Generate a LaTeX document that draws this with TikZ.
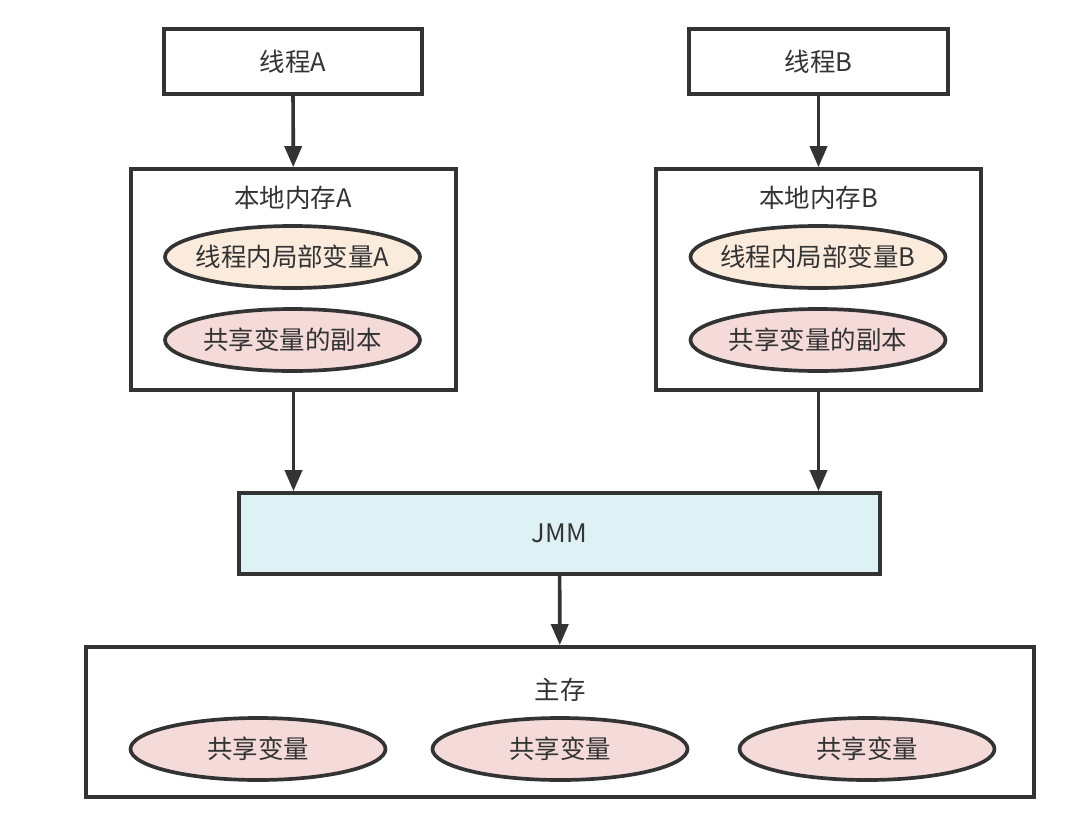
\documentclass[tikz,border=0pt]{standalone}
\usepackage{fontspec}
\setmainfont{Noto Sans CJK SC}
\usetikzlibrary{positioning}
\usetikzlibrary{arrows.meta}
\usetikzlibrary{shapes.geometric}
\definecolor{txt}{HTML}{333333}
\definecolor{fillloc}{HTML}{FBEBDC}
\definecolor{fillshr}{HTML}{F5DADA}
\definecolor{filljmm}{HTML}{DEF2F5}
\tikzstyle{block} = [draw=txt, rectangle, line width=2.1pt, inner sep=0pt, text=txt]
\tikzstyle{var} = [draw=txt, ellipse, line width=2.1pt, inner ysep=0pt, inner xsep=-0.3cm, minimum width=5.1cm, minimum height=1.24cm, text=txt]
\tikzstyle{title} = [text=txt, inner sep=0pt]
\tikzstyle{link} = [draw=txt, line width=2.1pt, -{Triangle[length=0.42cm, width=0.34cm]}]

\begin{document}
\begin{tikzpicture}[font=\fontsize{14.5}{17}\selectfont]
    \useasboundingbox (0,0) rectangle (21.64,-16.68);
    \node [block, minimum width=5.16cm, minimum height=1.3cm] (threadA) at (5.86,-1.23) {线程A};
    \node [block, minimum width=5.18cm, minimum height=1.3cm] (threadB) at (16.37,-1.23) {线程B};

    \node [block, minimum width=6.5cm, minimum height=4.42cm] (memA) at (5.87,-5.59) {};
    \node [block, minimum width=6.5cm, minimum height=4.42cm] (memB) at (16.37,-5.59) {};
    \node [title] (titleA) at (5.86,-3.96) {本地内存A};
    \node [title] (titleB) at (16.37,-3.96) {本地内存B};
    \node [var, fill=fillloc] (localA) at (5.85,-5.14) {线程内局部变量A};
    \node [var, fill=fillshr] (copyA) at (5.85,-6.80) {共享变量的副本};
    \node [var, fill=fillloc] (localB) at (16.36,-5.14) {线程内局部变量B};
    \node [var, fill=fillshr] (copyB) at (16.36,-6.80) {共享变量的副本};

    \node [block, fill=filljmm, minimum width=12.82cm, minimum height=1.62cm] (jmm) at (11.19,-10.67) {JMM};

    \node [block, minimum width=18.96cm, minimum height=3.0cm] (main) at (11.2,-14.44) {};
    \node [title] (titleM) at (11.2,-13.8) {主存};
    \node [var, fill=fillshr] (sharedA) at (5.16,-14.98) {共享变量};
    \node [var, fill=fillshr] (sharedB) at (11.2,-14.98) {共享变量};
    \node [var, fill=fillshr] (sharedC) at (17.34,-14.98) {共享变量};

    \draw [link] (threadA) -- (memA);
    \draw [link] (threadB) -- (memB);
    \draw [link] (memA.south) -- (memA.south |- jmm.north);
    \draw [link] (memB.south) -- (memB.south |- jmm.north);
    \draw [link] (jmm) -- (main);
\end{tikzpicture}
\end{document}
